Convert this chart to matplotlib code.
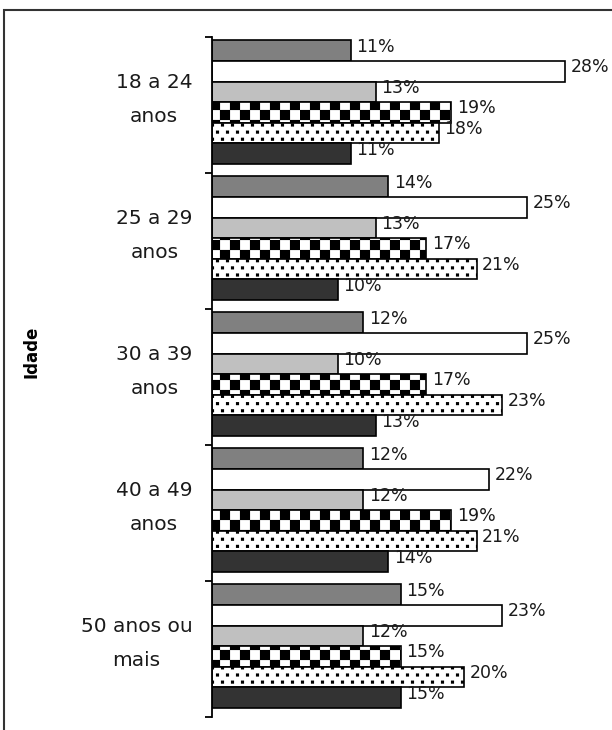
import warnings
import numpy as np
import matplotlib
matplotlib.use("Agg")
import matplotlib.pyplot as plt
import matplotlib.hatch as mhatch
from matplotlib.path import Path
from matplotlib.patches import Rectangle

warnings.filterwarnings("ignore")

groups = ["18 a 24\nanos", "25 a 29\nanos", "30 a 39\nanos",
          "40 a 49\nanos", "50 anos ou\nmais"]
s1 = [11, 14, 12, 12, 15]
s2 = [28, 25, 25, 22, 23]
s3 = [13, 13, 10, 12, 12]
s4 = [19, 17, 17, 19, 15]
s5 = [18, 21, 23, 21, 20]
s6 = [11, 10, 13, 14, 15]
series = [s1, s2, s3, s4, s5, s6]

faces = ["#808080", "white", "#c0c0c0", "white", "white", "#333333"]
hatches = [None, None, None, "c", "d", None]


def add_square(vertices, codes, k, x0, y0, x1, y1):
    vertices[k:k + 5] = [(x0, y0), (x1, y0), (x1, y1), (x0, y1), (x0, y0)]
    codes[k] = Path.MOVETO
    codes[k + 1:k + 4] = Path.LINETO
    codes[k + 4] = Path.CLOSEPOLY


# checkerboard hatch ('c'): 10 px squares at 100 dpi
class CheckerHatch(mhatch.HatchPatternBase):
    def __init__(self, hatch, density):
        self.n = 10 if "c" in hatch else 0
        self.num_vertices = (self.n * self.n // 2) * 5

    def set_vertices_and_codes(self, vertices, codes):
        s = 1.0 / self.n
        k = 0
        for i in range(self.n):
            for j in range(self.n):
                if (i + j) % 2:
                    continue
                add_square(vertices, codes, k, j * s, i * s, (j + 1) * s, (i + 1) * s)
                k += 5


# staggered square dots ('d')
class DotHatch(mhatch.HatchPatternBase):
    def __init__(self, hatch, density):
        self.cols = 10 if "d" in hatch else 0
        self.rows = 14 if "d" in hatch else 0
        self.num_vertices = self.cols * self.rows * 5

    def set_vertices_and_codes(self, vertices, codes):
        sz = 0.03
        k = 0
        for r in range(self.rows):
            yc = (r + 0.5) / self.rows
            for j in range(self.cols):
                xc = (j + 0.25 + 0.5 * (r % 2)) / self.cols
                add_square(vertices, codes, k, xc - sz / 2, yc - sz / 2,
                           xc + sz / 2, yc + sz / 2)
                k += 5


mhatch._hatch_types.extend([CheckerHatch, DotHatch])
plt.rcParams["hatch.color"] = "black"
plt.rcParams["hatch.linewidth"] = 0.1

fig = plt.figure(figsize=(6.12, 7.3), dpi=100)
ax = fig.add_axes([212 / 612, 1 - 717 / 730, 388 / 612, 680 / 730])

bar_h = 0.1515
start = 0.025
for k, vals in enumerate(series):
    ys = np.arange(len(groups)) + start + (k + 0.5) * bar_h
    ax.barh(ys, vals, height=bar_h, color=faces[k], edgecolor="black",
            linewidth=1.2, hatch=hatches[k])
    for y, v in zip(ys, vals):
        ax.annotate(f"{v}%", (v, y), xytext=(4, 3), textcoords="offset points",
                    va="center", ha="left", fontsize=12.5, color="#1a1a1a")

ax.set_xlim(0, 30.8)
ax.set_ylim(len(groups), 0)
ax.set_xticks([])
ax.set_yticks(np.arange(len(groups) + 1))
ax.set_yticklabels([])
ax.tick_params(axis="y", which="major", direction="out", length=5, width=1.3)
ax.set_yticks(np.arange(len(groups)) + 0.39, minor=True)
ax.set_yticklabels(groups, minor=True, ha="right", multialignment="center",
                   fontsize=14.5, linespacing=2.0, color="#1a1a1a")
ax.tick_params(axis="y", which="minor", length=0, pad=14)
for side in ["top", "right", "bottom"]:
    ax.spines[side].set_visible(False)
ax.spines["left"].set_linewidth(1.3)

fig.text(32 / 612, 1 - 352 / 730, "Idade", rotation=90, fontsize=12,
         fontweight="bold", ha="center", va="center")

fig.patches.append(Rectangle((4 / 612, -0.05), 1.1, 1 - 10 / 730 + 0.05,
                             transform=fig.transFigure, fill=False,
                             edgecolor="#333333", linewidth=1.5))

fig.savefig("out.png", dpi=100)
